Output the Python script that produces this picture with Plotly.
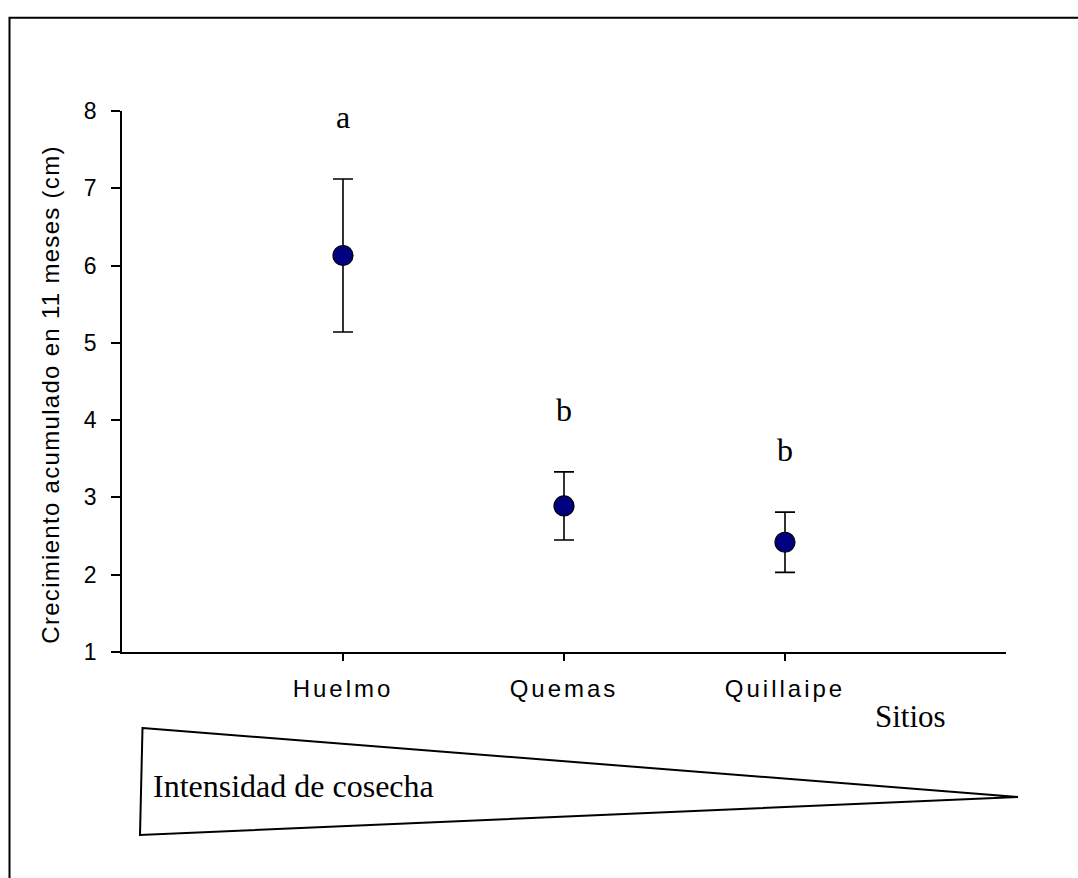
import plotly.graph_objects as go

# Accumulated growth over 11 months per site (mean and error bar half-width, cm)
sites = ["Huelmo", "Quemas", "Quillaipe"]
growth_mean = [6.13, 2.89, 2.42]
growth_err = [0.99, 0.44, 0.39]
group_letters = ["a", "b", "b"]
y_ticks = [1, 2, 3, 4, 5, 6, 7, 8]

W, H = 1078, 878
L, R, T, B = 122, 1006, 111, 652  # plot area in pixels


def px_x(p):
    return (p - L) / (R - L)


def px_y(p):
    return (B - p) / (B - T)


SANS = "Liberation Sans, Arial, sans-serif"
SERIF = "Liberation Serif, Times New Roman, serif"

fig = go.Figure()
fig.add_trace(go.Scatter(
    x=sites,
    y=growth_mean,
    mode="markers",
    marker=dict(size=20, color="#000080", line=dict(color="black", width=1.2)),
    error_y=dict(type="data", array=growth_err, visible=True,
                 color="black", thickness=1.6, width=10),
    showlegend=False,
    hoverinfo="skip",
))

annotations = []
for s, m, e, g in zip(sites, growth_mean, growth_err, group_letters):
    annotations.append(dict(
        x=s, y=m + e, xref="x", yref="y", text=g, showarrow=False,
        xanchor="center", yanchor="bottom", yshift=42,
        font=dict(family=SERIF, size=32, color="black"),
    ))

# y-axis title
annotations.append(dict(
    x=px_x(50), y=px_y(395), xref="paper", yref="paper",
    text="Crecimiento acumulado en 11 meses (cm)", textangle=-90,
    showarrow=False, xanchor="center", yanchor="middle",
    font=dict(family=SANS, size=24, color="black"),
))
# x-axis title
annotations.append(dict(
    x=px_x(910), y=px_y(716), xref="paper", yref="paper", text="Sitios",
    showarrow=False, xanchor="center", yanchor="middle",
    font=dict(family=SERIF, size=31, color="black"),
))
# harvest-intensity wedge label
annotations.append(dict(
    x=px_x(151), y=px_y(786), xref="paper", yref="paper",
    text="Intensidad de cosecha",
    showarrow=False, xanchor="left", yanchor="middle",
    font=dict(family=SERIF, size=32, color="black"),
))

wedge = [(142.5, 728), (1018, 797), (140, 835)]
wedge_path = "M {} {} L {} {} L {} {} Z".format(
    *[v for p in wedge for v in (px_x(p[0]), px_y(p[1]))])
frame_path = "M {} {} L {} {} L {} {}".format(
    px_x(9.5), px_y(880), px_x(9.5), px_y(17.7), px_x(1080), px_y(17.7))

shapes = [
    dict(type="path", path=wedge_path, xref="paper", yref="paper",
         line=dict(color="black", width=2), fillcolor="rgba(0,0,0,0)"),
    dict(type="path", path=frame_path, xref="paper", yref="paper",
         line=dict(color="black", width=2)),
]

fig.update_layout(
    width=W, height=H,
    margin=dict(l=L, r=W - R, t=T, b=H - B, pad=0),
    paper_bgcolor="white", plot_bgcolor="white",
    annotations=annotations, shapes=shapes,
    xaxis=dict(
        type="category", range=[-1, 3],
        showline=True, linecolor="black", linewidth=1.5,
        ticks="outside", ticklen=7, tickwidth=1.5, tickcolor="black",
        showgrid=False, zeroline=False, ticklabelstandoff=7,
        tickfont=dict(family=SANS, size=24, color="black"),
    ),
    yaxis=dict(
        range=[1, 8], tickvals=y_ticks,
        showline=True, linecolor="black", linewidth=1.5,
        ticks="outside", ticklen=9, tickwidth=1.5, tickcolor="black",
        showgrid=False, zeroline=False, ticklabelstandoff=10,
        tickfont=dict(family=SANS, size=23, color="black"),
    ),
)

spacing_js = (
    "var gd=document.getElementById('{plot_id}');"
    "gd.querySelectorAll('.xtick text').forEach(function(t){t.style.letterSpacing='3px';});"
    "gd.querySelectorAll('.annotation-text').forEach(function(t){"
    "if(t.textContent.indexOf('Crecimiento')===0){t.style.letterSpacing='1.3px';}});"
)

fig.write_html("out.html", post_script=spacing_js)
